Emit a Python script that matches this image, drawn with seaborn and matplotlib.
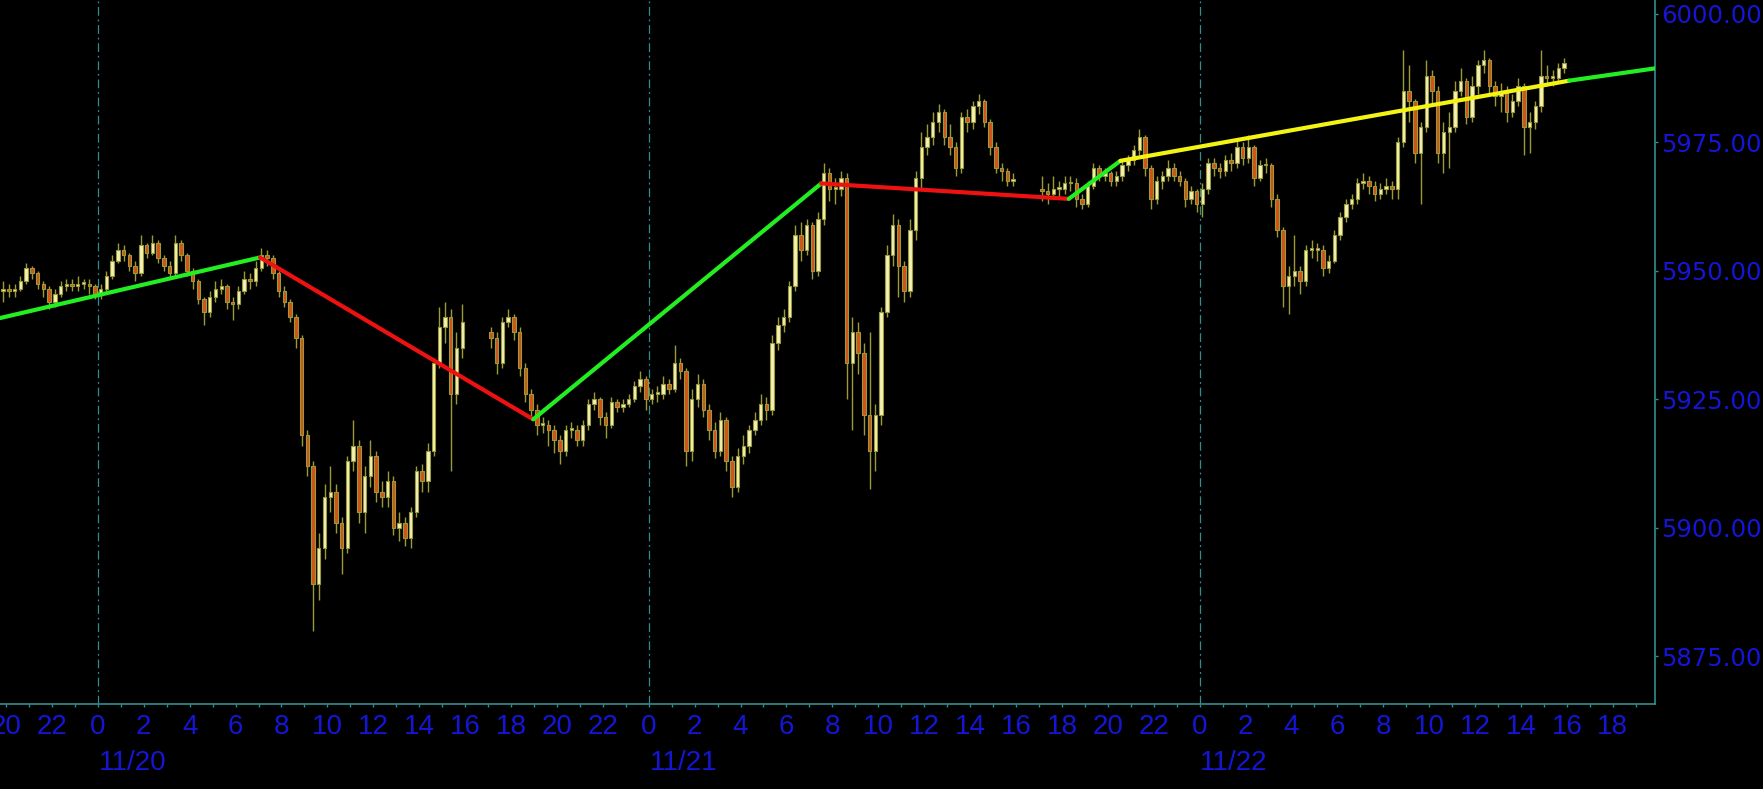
import numpy as np
import pandas as pd
import matplotlib
matplotlib.use("Agg")
import matplotlib.pyplot as plt
import seaborn as sns
from matplotlib.transforms import blended_transform_factory
from matplotlib.ticker import FixedLocator

# ---------------- data (15-minute bars, three sessions) ----------------
session_starts = ["2024-11-19 19:45", "2024-11-20 17:00", "2024-11-21 17:00"]
first_opens = [5946.0, 5938.0, 5966.0]

close_s1 = [5946.5, 5946, 5946.5, 5948, 5950.5, 5949.5, 5947.5, 5946.5, 5944, 5945.5, 5947, 5947.5,
            5947, 5947.5, 5947.5, 5947, 5945.5,
            5946.5, 5949, 5952, 5954, 5953, 5951, 5949.5, 5955, 5953.5, 5955.5, 5952.5, 5951,
            5949.5, 5955.5, 5953, 5950, 5948, 5944.5, 5942, 5945, 5946.5, 5947, 5944, 5943.5,
            5946, 5948.5, 5948, 5950.5, 5953, 5952.5, 5949.5, 5946,
            5944, 5941, 5937, 5918, 5912, 5889, 5896, 5906, 5907, 5901, 5896, 5913, 5916, 5903,
            5910, 5914, 5907, 5906, 5909, 5900, 5901, 5898, 5903, 5911, 5909, 5915, 5932, 5939,
            5941, 5926, 5935, 5940]
high_s1 = [5948, 5947.5, 5947.5, 5949, 5951.5, 5951, 5950, 5948, 5947, 5946.5, 5948, 5948.5,
           5948.5, 5949, 5948.5, 5948.5, 5947.5,
           5947.5, 5950, 5953, 5955.5, 5955, 5953.5, 5952, 5957, 5955.5, 5957, 5956, 5953,
           5952, 5957, 5956, 5953.5, 5950.5, 5948.5, 5945, 5946, 5948, 5948.5, 5947.5, 5945,
           5947, 5950, 5949.5, 5952, 5954.5, 5954, 5953, 5950,
           5947, 5944.5, 5941.5, 5937.5, 5919, 5913, 5899, 5908.5, 5912, 5908.5, 5902, 5914,
           5921, 5917, 5912, 5917, 5915, 5909, 5911, 5910, 5903, 5902, 5904, 5912, 5912.5,
           5916.5, 5933, 5943, 5944, 5942.5, 5938, 5943.5]
low_s1 = [5944, 5945, 5945, 5946, 5947.5, 5948.5, 5946.5, 5945, 5942.5, 5943, 5945, 5946,
          5946, 5946, 5946.5, 5945.5, 5944.5,
          5944.5, 5946, 5948.5, 5951.5, 5952, 5950, 5948, 5949, 5952.5, 5953, 5951.5, 5950,
          5948.5, 5949, 5952, 5949, 5946.5, 5943.5, 5939.5, 5941, 5944, 5945.5, 5942.5, 5940.5,
          5942.5, 5945.5, 5946.5, 5947, 5950, 5951, 5948.5, 5945,
          5943, 5940, 5935, 5916, 5910, 5880, 5886, 5894, 5903, 5899, 5891, 5895, 5911, 5901,
          5899, 5908, 5905, 5904, 5904, 5898.5, 5897.5, 5896.5, 5896, 5902, 5907, 5907, 5914,
          5931, 5936, 5911, 5924, 5933]

close_s2 = [5937, 5932, 5940, 5941, 5938, 5931, 5926, 5923, 5920, 5920, 5919, 5917, 5915, 5919,
            5919, 5917,
            5920, 5924, 5925, 5921.5, 5920, 5924.5, 5923.5, 5924, 5925, 5927.5, 5929, 5925,
            5926, 5926, 5928, 5927,
            5932, 5930.5, 5915, 5925, 5928, 5923, 5919, 5915, 5921, 5913, 5908, 5914, 5916,
            5919, 5921, 5924,
            5923, 5936, 5939.5, 5941, 5947, 5957, 5954, 5959, 5950, 5960, 5969, 5966, 5966,
            5968, 5932, 5938,
            5934, 5922, 5915, 5922, 5942, 5953, 5959, 5951, 5946, 5958, 5968, 5974, 5976,
            5979, 5981, 5976,
            5974, 5970, 5980, 5979, 5982, 5983, 5979, 5974, 5970, 5969.5, 5967.5, 5967.5]
high_s2 = [5939, 5938, 5941, 5942.5, 5941.5, 5939, 5932, 5927, 5924, 5921.5, 5921, 5920, 5918,
           5920, 5920.5, 5920,
           5921, 5925, 5926.5, 5925.5, 5922.5, 5925.5, 5925, 5925, 5926, 5928.5, 5930.5,
           5929.5, 5927, 5927.5, 5929.5, 5929,
           5935.5, 5933, 5931, 5927, 5930, 5929, 5924, 5920.5, 5922.5, 5921.5, 5914, 5915.5,
           5918, 5920, 5922.5, 5926,
           5925.5, 5937.5, 5941, 5942.5, 5948, 5959, 5959.5, 5960, 5959.5, 5961.5, 5971, 5970,
           5968, 5969.5, 5969, 5941,
           5940, 5936, 5938, 5924, 5943, 5955, 5961, 5960, 5952, 5960, 5969.5, 5977, 5978.5,
           5981, 5982.5, 5981.5,
           5978.5, 5975, 5981, 5981.5, 5983, 5984.5, 5983.5, 5979.5, 5975, 5971, 5970, 5969]
low_s2 = [5935, 5930, 5931, 5939, 5936.5, 5929.5, 5924.5, 5921.5, 5918, 5918.5, 5916, 5914.5,
          5912.5, 5914, 5917.5, 5916,
          5916, 5919, 5923, 5920, 5917.5, 5919.5, 5922.5, 5922.5, 5923.5, 5924.5, 5926.5,
          5923, 5924, 5924.5, 5925, 5926,
          5926.5, 5929, 5912, 5913, 5923.5, 5921.5, 5917, 5913.5, 5914, 5911, 5906, 5907,
          5912.5, 5914.5, 5918, 5920,
          5921, 5922, 5934.5, 5938, 5940, 5946, 5952, 5953, 5948.5, 5949, 5959, 5963.5, 5963,
          5964.5, 5925, 5919,
          5930, 5918, 5907.5, 5911, 5920, 5941, 5951, 5945, 5944, 5945, 5956, 5966, 5972.5,
          5974.5, 5977, 5974.5,
          5972.5, 5968.5, 5969, 5977, 5977.5, 5980.5, 5978, 5972.5, 5969, 5967.5, 5966.5, 5966.5]

close_s3 = [5965.5, 5965, 5966, 5966, 5967, 5967, 5964, 5963, 5966.5, 5970, 5968.5, 5969,
            5967.5, 5968.5, 5970.5, 5971.5,
            5973.5, 5976, 5970, 5964, 5967.5, 5968.5, 5970, 5968.5, 5967.5, 5964, 5965.5, 5963,
            5966, 5971, 5970, 5969.5,
            5971.5, 5971, 5974, 5972, 5974, 5968, 5970.5, 5970.5, 5964, 5958, 5947, 5949, 5950,
            5948, 5954, 5954,
            5954, 5950.5, 5952, 5957, 5960.5, 5963, 5964, 5967, 5967.5, 5966.5, 5965, 5966,
            5966.5, 5966, 5975, 5985,
            5983, 5973, 5978, 5988, 5985, 5973, 5977, 5978, 5985, 5987, 5980, 5986, 5990, 5991,
            5986, 5984,
            5985, 5981, 5983, 5986, 5978, 5979, 5982, 5988, 5987.5, 5987.5, 5989.5, 5990.5]
high_s3 = [5968.5, 5967, 5968.5, 5967.5, 5968.5, 5968.5, 5968, 5965, 5967.5, 5971, 5970.5, 5970,
           5969.5, 5969.5, 5971.5, 5972.5,
           5974.5, 5977.5, 5976.5, 5970.5, 5968.5, 5969.5, 5971.5, 5971, 5969.5, 5968, 5966.5,
           5966, 5967, 5972, 5972, 5971,
           5972.5, 5973, 5975.5, 5975, 5976.5, 5974.5, 5971.5, 5972, 5971, 5965, 5958.5, 5951,
           5957, 5951, 5955, 5956,
           5955.5, 5955, 5953, 5958, 5961.5, 5964, 5965, 5968, 5969, 5968.5, 5967.5, 5967,
           5968, 5967.5, 5976, 5993,
           5990, 5983.5, 5979, 5991, 5989, 5986, 5979, 5981, 5987, 5989.5, 5987.5, 5988, 5991,
           5993, 5991.5, 5987,
           5986.5, 5986, 5984.5, 5987.5, 5986.5, 5981, 5983, 5993, 5990, 5989, 5990.5, 5991.5]
low_s3 = [5963.5, 5963, 5964, 5964, 5965, 5965.5, 5962.5, 5962, 5962.5, 5966, 5967.5, 5967.5,
          5966.5, 5966.5, 5967.5, 5969.5,
          5970.5, 5972.5, 5968.5, 5962, 5963, 5966, 5967.5, 5967.5, 5966.5, 5962.5, 5963,
          5961.5, 5960.5, 5965, 5968.5, 5968,
          5968.5, 5969.5, 5970, 5970.5, 5971, 5966.5, 5967.5, 5969, 5962.5, 5956.5, 5943,
          5941.5, 5947, 5945.5, 5947, 5952.5,
          5952, 5949, 5949.5, 5951.5, 5956, 5959.5, 5962, 5963, 5966, 5965, 5963.5, 5964,
          5965, 5964, 5964, 5974,
          5979, 5971, 5963, 5977, 5982, 5971, 5969, 5970, 5977, 5984, 5978.5, 5979, 5984.5,
          5988.5, 5984.5, 5982,
          5981, 5979, 5980, 5982, 5972.5, 5973, 5977.5, 5981, 5986, 5986, 5986.5, 5988.5]

# zigzag pivots
zz_times = ["2024-11-19 19:44", "2024-11-20 07:04", "2024-11-20 18:58", "2024-11-21 07:31",
            "2024-11-21 18:18", "2024-11-21 20:33", "2024-11-22 16:06", "2024-11-22 19:51"]
zz_values = [5940.8, 5952.6, 5921.1, 5967.0, 5964.0, 5971.4, 5987.0, 5989.4]
zz_colors = ["#22EE22", "#EE1111", "#22EE22", "#EE1111", "#22EE22", "#F4F414", "#22EE22"]

y_ticks = [5875, 5900, 5925, 5950, 5975, 6000]
day_labels = ["11/20", "11/21", "11/22"]
day_starts = ["2024-11-20", "2024-11-21", "2024-11-22"]

# ---------------- build table ----------------
base = pd.Timestamp("2024-11-20 00:00")
frames = []
for start, o0, c, h, l in zip(session_starts, first_opens,
                              [close_s1, close_s2, close_s3],
                              [high_s1, high_s2, high_s3],
                              [low_s1, low_s2, low_s3]):
    t = pd.date_range(start, periods=len(c), freq="15min")
    opens = [o0] + list(c[:-1])
    frames.append(pd.DataFrame({"t": t, "open": opens, "close": c, "high": h, "low": l}))
bars = pd.concat(frames, ignore_index=True)
bars["x"] = (bars["t"] - base) / pd.Timedelta("1h") + 0.125

zz = pd.DataFrame({"t": pd.to_datetime(zz_times), "v": zz_values})
zz["x"] = (zz["t"] - base) / pd.Timedelta("1h")

# ---------------- style ----------------
sns.set_theme(style="dark")
plt.rcParams["font.family"] = ["Liberation Sans", "DejaVu Sans"]
BG = "black"
TEAL = "#2F8F8F"
BLUE = "#1515D8"
OLIVE = "#9A9A36"
UPFILL = "#F4F0B8"
DNFILL = "#D2521A"
X_FONT = ["Liberation Sans", "DejaVu Sans"]
Y_FONT = ["DejaVu Sans"]

W, H, DPI = 1763, 789, 100
fig = plt.figure(figsize=(W / DPI, H / DPI), dpi=DPI, facecolor=BG)
ax = fig.add_axes([0, 1 - 704 / H, 1655 / W, 704 / H])
ax.set_facecolor(BG)

# candles
ax.vlines(bars["x"], bars["low"], bars["high"], color=OLIVE, linewidth=1.0, zorder=2)
up = bars["close"] >= bars["open"]
for mask, fc in [(up, UPFILL), (~up, DNFILL)]:
    sub = bars[mask]
    hgt = (sub["close"] - sub["open"]).abs().clip(lower=0.35)
    bot = np.minimum(sub["open"], sub["close"])
    ax.bar(sub["x"], hgt, bottom=bot, width=0.15, color=fc, edgecolor=OLIVE,
           linewidth=0.8, zorder=3)

# zigzag segments
for i, col in enumerate(zz_colors):
    seg = zz.iloc[i:i + 2]
    sns.lineplot(data=seg, x="x", y="v", ax=ax, color=col, linewidth=3.0,
                 sort=False, zorder=5, legend=False)

# day separators
for d in day_starts:
    xd = (pd.Timestamp(d) - base) / pd.Timedelta("1h")
    ax.axvline(xd, color=TEAL, linewidth=0.9, linestyle=(0, (7, 3, 1.5, 3)), zorder=1)

# axes limits
ax.set_xlim(-4.263, 67.84)
ax.set_ylim(5865.7, 6002.7)
ax.grid(False)
ax.set_xlabel("")
ax.set_ylabel("")

for s in ["left", "top"]:
    ax.spines[s].set_visible(False)
for s in ["right", "bottom"]:
    ax.spines[s].set_visible(True)
    ax.spines[s].set_color(TEAL)
    ax.spines[s].set_linewidth(1.2)

# x ticks: every hour, labelled every 2 hours
major = np.arange(-4, 68, 2)
minor = np.arange(-4, 68, 1)
ax.xaxis.set_major_locator(FixedLocator(major))
ax.xaxis.set_minor_locator(FixedLocator(minor))
ax.set_xticklabels([str(int(h) % 24) for h in major],
                   family=X_FONT, fontsize=20, color=BLUE)
ax.tick_params(axis="x", which="both", direction="out", length=2.5, width=1, color=TEAL,
               pad=5, bottom=True)

# y ticks on the right
ax.yaxis.tick_right()
ax.set_yticks(y_ticks)
ax.set_yticklabels([f"{v:.3f}" for v in y_ticks], family=Y_FONT, fontsize=17.5, color=BLUE)
ax.tick_params(axis="y", which="major", direction="out", length=2.5, width=1, color=TEAL,
               pad=2, right=True, left=False)

# date labels
trans = blended_transform_factory(ax.transData, ax.transAxes)
for d, lab in zip(day_starts, day_labels):
    xd = (pd.Timestamp(d) - base) / pd.Timedelta("1h")
    ax.text(xd + 0.03, -0.084, lab, transform=trans, ha="left", va="center", color=BLUE,
            fontsize=20, family=X_FONT)

fig.savefig("out.png", dpi=DPI, facecolor=BG)
